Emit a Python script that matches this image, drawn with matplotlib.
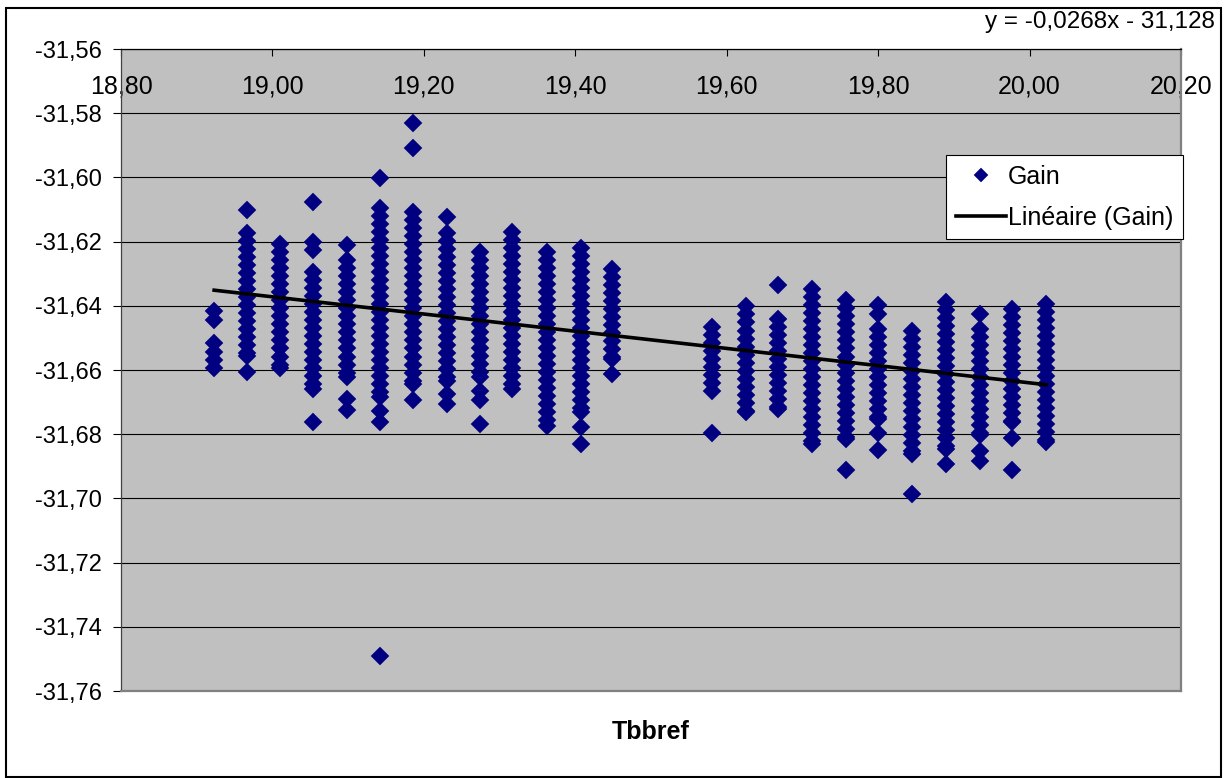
import numpy as np
import matplotlib.pyplot as plt
from matplotlib.patches import Rectangle
from matplotlib.ticker import FixedLocator, FuncFormatter

plt.rcParams['font.family'] = ['Liberation Sans', 'DejaVu Sans']

# Tbbref value of each column of points
tbbref_cols = [18.923, 18.966, 19.010, 19.054, 19.098, 19.142, 19.185, 19.230,
               19.274, 19.317, 19.362, 19.407, 19.449, 19.581, 19.626, 19.668,
               19.713, 19.758, 19.800, 19.845, 19.890, 19.935, 19.977, 20.022]

# Gain values read per column (top to bottom)
gain_01 = [-31.6417, -31.6444, -31.6516, -31.6543, -31.6568, -31.6593]
gain_02 = [-31.6100, -31.6173, -31.6198, -31.6223, -31.6248, -31.6273, -31.6298, -31.6323,
           -31.6348, -31.6373, -31.6398, -31.6423, -31.6448, -31.6473, -31.6498, -31.6523,
           -31.6548, -31.6557, -31.6607]
gain_03 = [-31.6208, -31.6233, -31.6258, -31.6283, -31.6308, -31.6333, -31.6358, -31.6383,
           -31.6408, -31.6433, -31.6458, -31.6483, -31.6508, -31.6533, -31.6558, -31.6583,
           -31.6593]
gain_04 = [-31.6076, -31.6201, -31.6227, -31.6295, -31.6320, -31.6345, -31.6370, -31.6395,
           -31.6420, -31.6445, -31.6470, -31.6495, -31.6520, -31.6545, -31.6570, -31.6595,
           -31.6620, -31.6645, -31.6659, -31.6761]
gain_05 = [-31.6212, -31.6258, -31.6283, -31.6308, -31.6333, -31.6358, -31.6383, -31.6408,
           -31.6433, -31.6458, -31.6483, -31.6508, -31.6533, -31.6558, -31.6583, -31.6608,
           -31.6622, -31.6690, -31.6724]
gain_06 = [-31.6002, -31.6094, -31.6119, -31.6144, -31.6169, -31.6194, -31.6219, -31.6244,
           -31.6269, -31.6294, -31.6319, -31.6344, -31.6369, -31.6394, -31.6419, -31.6444,
           -31.6469, -31.6494, -31.6519, -31.6544, -31.6569, -31.6594, -31.6619, -31.6644,
           -31.6669, -31.6685, -31.6728, -31.6761, -31.7491]
gain_07 = [-31.5832, -31.5908, -31.6108, -31.6133, -31.6158, -31.6183, -31.6208, -31.6233,
           -31.6258, -31.6283, -31.6308, -31.6333, -31.6358, -31.6383, -31.6408, -31.6433,
           -31.6458, -31.6483, -31.6508, -31.6533, -31.6558, -31.6583, -31.6608, -31.6633,
           -31.6643, -31.6693]
gain_08 = [-31.6123, -31.6173, -31.6198, -31.6223, -31.6248, -31.6273, -31.6298, -31.6323,
           -31.6348, -31.6373, -31.6398, -31.6423, -31.6448, -31.6473, -31.6498, -31.6523,
           -31.6548, -31.6573, -31.6598, -31.6623, -31.6633, -31.6674, -31.6705]
gain_09 = [-31.6232, -31.6257, -31.6282, -31.6307, -31.6332, -31.6357, -31.6382, -31.6407,
           -31.6432, -31.6457, -31.6482, -31.6507, -31.6532, -31.6557, -31.6582, -31.6607,
           -31.6622, -31.6664, -31.6695, -31.6768]
gain_10 = [-31.6170, -31.6195, -31.6220, -31.6245, -31.6270, -31.6295, -31.6320, -31.6345,
           -31.6370, -31.6395, -31.6420, -31.6445, -31.6470, -31.6495, -31.6520, -31.6545,
           -31.6570, -31.6595, -31.6620, -31.6645, -31.6659]
gain_11 = [-31.6232, -31.6257, -31.6282, -31.6307, -31.6332, -31.6357, -31.6382, -31.6407,
           -31.6432, -31.6457, -31.6482, -31.6507, -31.6532, -31.6557, -31.6582, -31.6607,
           -31.6632, -31.6657, -31.6682, -31.6707, -31.6732, -31.6757, -31.6773]
gain_12 = [-31.6219, -31.6244, -31.6269, -31.6294, -31.6319, -31.6344, -31.6369, -31.6394,
           -31.6419, -31.6444, -31.6469, -31.6494, -31.6519, -31.6544, -31.6569, -31.6594,
           -31.6619, -31.6644, -31.6669, -31.6694, -31.6719, -31.6732, -31.6778, -31.6830]
gain_13 = [-31.6284, -31.6309, -31.6334, -31.6359, -31.6384, -31.6409, -31.6434, -31.6459,
           -31.6484, -31.6509, -31.6534, -31.6559, -31.6565, -31.6612]
gain_14 = [-31.6466, -31.6491, -31.6516, -31.6541, -31.6566, -31.6591, -31.6616, -31.6641,
           -31.6666, -31.6797]
gain_15 = [-31.6402, -31.6427, -31.6452, -31.6477, -31.6502, -31.6527, -31.6552, -31.6577,
           -31.6602, -31.6627, -31.6652, -31.6677, -31.6702, -31.6727, -31.6732]
gain_16 = [-31.6336, -31.6440, -31.6465, -31.6490, -31.6515, -31.6540, -31.6565, -31.6590,
           -31.6615, -31.6640, -31.6665, -31.6690, -31.6715, -31.6721]
gain_17 = [-31.6347, -31.6372, -31.6397, -31.6422, -31.6447, -31.6472, -31.6497, -31.6522,
           -31.6547, -31.6572, -31.6597, -31.6622, -31.6647, -31.6672, -31.6697, -31.6722,
           -31.6747, -31.6772, -31.6797, -31.6822, -31.6830]
gain_18 = [-31.6383, -31.6408, -31.6433, -31.6458, -31.6483, -31.6508, -31.6533, -31.6558,
           -31.6583, -31.6608, -31.6633, -31.6658, -31.6683, -31.6708, -31.6733, -31.6758,
           -31.6783, -31.6808, -31.6815, -31.6911]
gain_19 = [-31.6399, -31.6425, -31.6472, -31.6497, -31.6522, -31.6547, -31.6572, -31.6597,
           -31.6622, -31.6647, -31.6672, -31.6697, -31.6722, -31.6747, -31.6752, -31.6797,
           -31.6849]
gain_20 = [-31.6477, -31.6502, -31.6527, -31.6552, -31.6577, -31.6602, -31.6627, -31.6652,
           -31.6677, -31.6702, -31.6727, -31.6752, -31.6777, -31.6802, -31.6827, -31.6852,
           -31.6862, -31.6986]
gain_21 = [-31.6388, -31.6413, -31.6438, -31.6463, -31.6488, -31.6513, -31.6538, -31.6563,
           -31.6588, -31.6613, -31.6638, -31.6663, -31.6688, -31.6713, -31.6738, -31.6763,
           -31.6788, -31.6813, -31.6838, -31.6846, -31.6893]
gain_22 = [-31.6425, -31.6472, -31.6497, -31.6522, -31.6547, -31.6572, -31.6597, -31.6622,
           -31.6647, -31.6672, -31.6697, -31.6722, -31.6747, -31.6772, -31.6797, -31.6804,
           -31.6853, -31.6882]
gain_23 = [-31.6409, -31.6434, -31.6459, -31.6484, -31.6509, -31.6534, -31.6559, -31.6584,
           -31.6609, -31.6634, -31.6659, -31.6684, -31.6709, -31.6734, -31.6759, -31.6763,
           -31.6813, -31.6911]
gain_24 = [-31.6393, -31.6418, -31.6443, -31.6468, -31.6493, -31.6518, -31.6543, -31.6568,
           -31.6593, -31.6618, -31.6643, -31.6668, -31.6693, -31.6718, -31.6743, -31.6768,
           -31.6793, -31.6818, -31.6825]

gain_cols = [gain_01, gain_02, gain_03, gain_04, gain_05, gain_06, gain_07, gain_08,
             gain_09, gain_10, gain_11, gain_12, gain_13, gain_14, gain_15, gain_16,
             gain_17, gain_18, gain_19, gain_20, gain_21, gain_22, gain_23, gain_24]

# Excel linear trendline
slope = -0.0268
intercept = -31.128
equation = 'y = -0,0268x - 31,128'

x_ticks = [18.8, 19.0, 19.2, 19.4, 19.6, 19.8, 20.0, 20.2]
y_ticks = [-31.76, -31.74, -31.72, -31.70, -31.68, -31.66, -31.64, -31.62, -31.60, -31.58, -31.56]

x = np.concatenate([[t] * len(g) for t, g in zip(tbbref_cols, gain_cols)])
y = np.concatenate(gain_cols)

W, H = 1228, 778
fig = plt.figure(figsize=(W / 100, H / 100), dpi=100)
ax = fig.add_axes([121 / W, 1 - 691 / H, 1060 / W, 642 / H])
ax.set_facecolor('#c0c0c0')

ax.plot(x, y, 'D', ms=9, color='#000080', mec='#000080', mew=0.3,
        label='Gain', zorder=3)
xf = np.array([min(tbbref_cols), max(tbbref_cols)])
ax.plot(xf, slope * xf + intercept, color='black', lw=2.6,
        label='Linéaire (Gain)', zorder=4)

ax.set_xlim(x_ticks[0], x_ticks[-1])
ax.set_ylim(y_ticks[0], y_ticks[-1])
comma = FuncFormatter(lambda v, p: f'{v:.2f}'.replace('.', ','))
ax.xaxis.set_major_locator(FixedLocator(x_ticks))
ax.yaxis.set_major_locator(FixedLocator(y_ticks))
ax.xaxis.set_major_formatter(comma)
ax.yaxis.set_major_formatter(comma)

ax.xaxis.tick_top()
ax.tick_params(axis='x', direction='in', length=5, width=0.8, pad=-36,
               labelsize=18, bottom=False)
ax.tick_params(axis='y', direction='out', length=6, width=0.8, pad=8, labelsize=17)
ax.yaxis.grid(True, color='black', lw=0.8)
ax.set_axisbelow(True)

ax.spines['top'].set_color('black')
ax.spines['top'].set_linewidth(0.9)
ax.spines['left'].set_color('#404040')
ax.spines['left'].set_linewidth(0.9)
for s in ('right', 'bottom'):
    ax.spines[s].set_color('#808080')
    ax.spines[s].set_linewidth(1.6)

ax.xaxis.set_label_position('bottom')
ax.set_xlabel('Tbbref', fontsize=18, fontweight='bold', labelpad=21)

leg = ax.legend(loc='upper left', bbox_to_anchor=(946 / W, 1 - 155 / H),
                bbox_transform=fig.transFigure, fontsize=18, numpoints=1,
                fancybox=False, framealpha=1, edgecolor='black',
                borderpad=0.38, labelspacing=0.68, handlelength=2.0,
                handletextpad=0.1, borderaxespad=0, markerscale=0.8)
leg.get_frame().set_linewidth(0.8)

fig.text(1215 / W, 1 - 28 / H, equation, ha='right', va='baseline', fontsize=17.5)

fig.add_artist(Rectangle((6 / W, 1 - 777 / H), 1215 / W, 769 / H,
                         transform=fig.transFigure, fill=False,
                         ec='black', lw=1.5))

fig.savefig('out.png', dpi=100)
